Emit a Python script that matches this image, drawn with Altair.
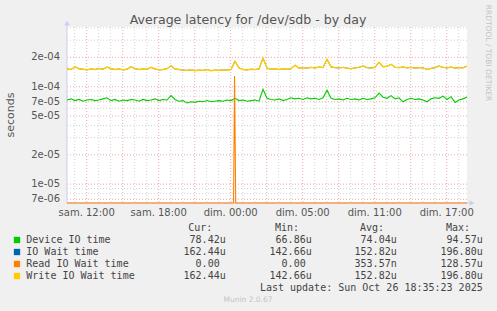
import altair as alt
import pandas as pd

# ---------------- data ----------------
T0 = -13.64          # hours relative to "dim. 00:00"
STEP = 1.0 / 3.0     # 20-minute samples

device_io = [73, 75, 72, 74, 71, 73, 74, 72, 73, 75,
             77, 72, 74, 71, 73, 72, 74, 73, 71, 74,
             72, 73, 75, 72, 74, 73, 81, 74, 71, 72,
             68, 70, 69, 71, 70, 72, 70, 71, 72, 71,
             73, 72, 76, 72, 73, 71, 72, 73, 71, 94,
             76, 74, 73, 75, 72, 74, 77, 75, 76, 74,
             77, 75, 76, 74, 77, 92, 76, 74, 75, 73,
             76, 74, 75, 73, 76, 74, 75, 77, 86, 78,
             76, 81, 75, 77, 70, 74, 76, 74, 75, 73,
             70, 75, 77, 76, 80, 74, 79, 69, 73, 75, 78.42]

write_wait = [152, 150, 160, 153, 151, 149, 152, 150, 154, 151,
              159, 153, 150, 152, 149, 151, 160, 153, 150, 152,
              151, 158, 152, 149, 150, 153, 164, 152, 150, 148,
              147, 149, 146, 148, 147, 150, 146, 148, 147, 149,
              148, 150, 183, 156, 150, 149, 151, 150, 152, 197,
              155, 151, 153, 150, 152, 151, 153, 166, 155, 157,
              155, 158, 156, 159, 157, 191, 160, 157, 156, 158,
              155, 153, 156, 158, 163, 157, 155, 158, 179, 160,
              162, 170, 158, 157, 159, 156, 158, 155, 157, 156,
              150, 154, 157, 163, 158, 156, 159, 155, 157, 156, 162.44]

io_wait = list(write_wait)   # identical series, hidden under Write IO Wait

read_t = [-13.64, 0.24, 0.32, 0.42, 19.69]
read_v = [0, 0, 128.57, 0, 0]

series_names = ["Device IO time", "IO Wait time", "Read IO Wait time", "Write IO Wait time"]
series_colors = ["#00CC00", "#0066B3", "#FF8000", "#FFCC00"]
cur_vals = ["78.42u", "162.44u", "0.00", "162.44u"]
min_vals = ["66.86u", "142.66u", "0.00", "142.66u"]
avg_vals = ["74.04u", "152.82u", "353.57n", "152.82u"]
max_vals = ["94.57u", "196.80u", "128.57u", "196.80u"]

x_tick_hours = [-12, -6, 0, 6, 12, 18]
x_tick_labels = ["sam. 12:00", "sam. 18:00", "dim. 00:00", "dim. 05:00", "dim. 11:00", "dim. 17:00"]
x_major = [-12, -9, -6, -3, 0, 3, 6, 9, 12, 15, 18]
x_minor = [-13, -11, -10, -8, -7, -5, -4, -2, -1, 1, 2, 4, 5, 7, 8, 10, 11, 13, 14, 16, 17, 19]

y_major = [7e-6, 1e-5, 2e-5, 5e-5, 7e-5, 1e-4, 2e-4]
y_major_labels = ["7e-06", "1e-05", "2e-05", "5e-05", "7e-05", "1e-04", "2e-04"]
y_minor = [8e-6, 9e-6, 3e-5, 4e-5, 6e-5, 8e-5, 9e-5, 3e-4, 4e-4]

title_text = "Average latency for /dev/sdb - by day"
last_update = "Last update: Sun Oct 26 18:35:23 2025"

# ---------------- layout constants ----------------
W, H = 400, 176
PAD_L, PAD_T = 67, 27
Y_MIN, Y_MAX = 6.4e-6, 4.1e-4
X_MIN, X_MAX = -13.64, 19.69

xs = alt.Scale(domain=[X_MIN, X_MAX], nice=False, zero=False)
ys = alt.Scale(type="log", domain=[Y_MIN, Y_MAX], nice=False)

FONT = "DejaVu Sans"
MONO = "DejaVu Sans Mono"
TXT = "#555555"
AXIS_COL = "#CCCCF5"

# ---------------- tables ----------------
times = [T0 + i * STEP for i in range(len(device_io))]
rows = []
for t, g, b, w in zip(times, device_io, io_wait, write_wait):
    rows.append({"t": t, "v": g * 1e-6, "s": series_names[0]})
    rows.append({"t": t, "v": b * 1e-6, "s": series_names[1]})
    rows.append({"t": t, "v": w * 1e-6, "s": series_names[3]})
for t, r in zip(read_t, read_v):
    rows.append({"t": t, "v": r * 1e-6, "s": series_names[2]})
lines_df = pd.DataFrame(rows)

base = alt.Chart(lines_df)

widths = {series_names[0]: 1.1, series_names[1]: 0.8, series_names[2]: 1.1, series_names[3]: 1.4}


def line_layer(name, color):
    ch = base.transform_filter(alt.datum.s == name)
    if name == series_names[2]:
        ch = ch.transform_calculate(v=f"max(datum.v, {Y_MIN})")
    return ch.mark_line(color=color, strokeWidth=widths[name], interpolate="linear").encode(
        x=alt.X("t:Q", scale=xs, axis=None),
        y=alt.Y("v:Q", scale=ys, axis=None),
        order="t:Q",
    )


def hrules(vals, color):
    return alt.Chart(pd.DataFrame({"v": vals})).mark_rule(
        color=color, strokeWidth=1, strokeDash=[1, 2]
    ).encode(y=alt.Y("v:Q", scale=ys, axis=None))


def vrules(vals, color):
    return alt.Chart(pd.DataFrame({"t": vals})).mark_rule(
        color=color, strokeWidth=1, strokeDash=[1, 2]
    ).encode(x=alt.X("t:Q", scale=xs, axis=None))


grid = [
    hrules(y_minor, "#D4D4D4"),
    vrules(x_minor, "#D4D4D4"),
    hrules(y_major, "#EEA8A8"),
    vrules(x_major, "#EEA8A8"),
]

# axis lines + arrows
axis_lines = [
    alt.Chart(pd.DataFrame({"a": [0]})).mark_rule(color=AXIS_COL, strokeWidth=1).encode(
        x=alt.value(0), y=alt.value(-3), y2=alt.value(H)),
    alt.Chart(pd.DataFrame({"a": [0]})).mark_rule(color=AXIS_COL, strokeWidth=1).encode(
        x=alt.value(0), x2=alt.value(W + 4), y=alt.value(H)),
    alt.Chart(pd.DataFrame({"a": [0]})).mark_point(shape="triangle-up", filled=True, color=AXIS_COL, size=30, opacity=1).encode(
        x=alt.value(0), y=alt.value(-4)),
    alt.Chart(pd.DataFrame({"a": [0]})).mark_point(shape="triangle-right", filled=True, color=AXIS_COL, size=30, opacity=1).encode(
        x=alt.value(W + 5), y=alt.value(H)),
]

# tick labels
ylab = alt.Chart(pd.DataFrame({"v": y_major, "lab": y_major_labels})).mark_text(
    align="right", baseline="middle", font=FONT, fontSize=10, color=TXT
).encode(y=alt.Y("v:Q", scale=ys, axis=None), x=alt.value(-7), text="lab:N")

xlab = alt.Chart(pd.DataFrame({"t": x_tick_hours, "lab": x_tick_labels})).mark_text(
    align="center", baseline="middle", font=FONT, fontSize=10, color=TXT
).encode(x=alt.X("t:Q", scale=xs, axis=None), y=alt.value(H + 10), text="lab:N")

one = pd.DataFrame({"a": [0]})
title = alt.Chart(one).mark_text(
    align="center", baseline="alphabetic", font=FONT, fontSize=12.6, color=TXT
).encode(x=alt.value(248 - PAD_L), y=alt.value(24 - PAD_T), text=alt.value(title_text))

ytitle = alt.Chart(one).mark_text(
    align="center", baseline="middle", font=FONT, fontSize=11, color=TXT, angle=270
).encode(x=alt.value(11 - PAD_L), y=alt.value(115 - PAD_T), text=alt.value("seconds"))

rrd = alt.Chart(one).mark_text(
    align="center", baseline="middle", font=FONT, fontSize=7.5, color="#C4C4C4", angle=90
).encode(x=alt.value(487.5 - PAD_L), y=alt.value(53 - PAD_T), text=alt.value("RRDTOOL / TOBI OETIKER"))

munin = alt.Chart(one).mark_text(
    align="center", baseline="middle", font=FONT, fontSize=7.5, color="#C4C4C4"
).encode(x=alt.value(248 - PAD_L), y=alt.value(300 - PAD_T), text=alt.value("Munin 2.0.67"))

# legend
row_y = [240, 252, 264, 276]
CH = 6.02
left_rows, right_rows, sq_rows = [], [], []
for i, name in enumerate(series_names):
    y = row_y[i] - PAD_T
    sq_rows.append({"px": 17 - PAD_L, "py": y, "c": series_colors[i]})
    left_rows.append({"px": 26.3 - PAD_L, "py": y, "txt": name})
    for col_right, vals in zip([225.7, 311.7, 396.7, 482.7], [cur_vals, min_vals, avg_vals, max_vals]):
        s = vals[i]
        r = col_right if not s[-1].isdigit() else col_right - CH
        right_rows.append({"px": r - PAD_L, "py": y, "txt": s})
for col_right, h in zip([212.3, 299.0, 384.0, 470.0], ["Cur:", "Min:", "Avg:", "Max:"]):
    right_rows.append({"px": col_right - PAD_L, "py": 227.7 - PAD_T, "txt": h})
right_rows.append({"px": 482.7 - PAD_L, "py": 287.7 - PAD_T, "txt": last_update})

sq = alt.Chart(pd.DataFrame(sq_rows)).mark_square(size=40, opacity=1, filled=True).encode(
    x=alt.X("px:Q", scale=None), y=alt.Y("py:Q", scale=None),
    color=alt.Color("c:N", scale=None))
ltxt = alt.Chart(pd.DataFrame(left_rows)).mark_text(
    align="left", baseline="middle", font=MONO, fontSize=10, color="#444444"
).encode(x=alt.X("px:Q", scale=None), y=alt.Y("py:Q", scale=None), text="txt:N")
rtxt = alt.Chart(pd.DataFrame(right_rows)).mark_text(
    align="right", baseline="middle", font=MONO, fontSize=10, color="#444444"
).encode(x=alt.X("px:Q", scale=None), y=alt.Y("py:Q", scale=None), text="txt:N")

data_lines = [line_layer(n, c) for n, c in zip(series_names, series_colors)]

chart = alt.layer(
    *grid, *axis_lines, *data_lines, ylab, xlab, title, ytitle, rrd, munin, sq, ltxt, rtxt
).properties(
    width=W, height=H,
    autosize=alt.AutoSizeParams(type="none"),
    padding={"left": PAD_L, "top": PAD_T, "right": 497 - PAD_L - W, "bottom": 311 - PAD_T - H},
).configure(background="#F0F0F0").configure_view(fill="white", stroke=None)

chart.save("out.html", embed_options={"renderer": "svg", "actions": False})
